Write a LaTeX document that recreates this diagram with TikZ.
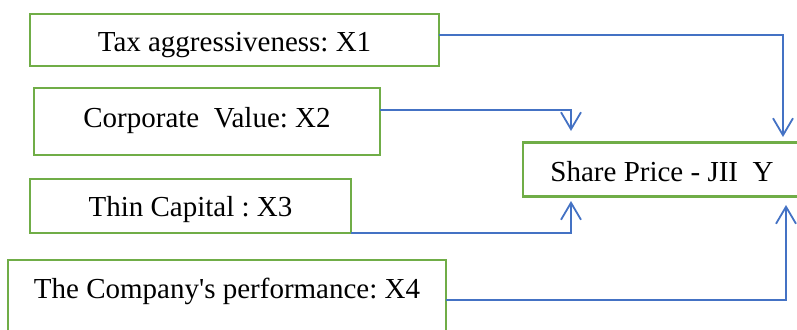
\documentclass[tikz,border=0pt]{standalone}
\usepackage{fontspec}
\setmainfont{Liberation Serif}
\usetikzlibrary{arrows.meta}
\definecolor{bgreen}{HTML}{70AD47}
\definecolor{cblue}{HTML}{4472C4}
\frenchspacing
\tikzset{
  gbox/.style={draw=bgreen, line width=2.5pt, inner sep=0pt, outer sep=0pt,
    anchor=north west, font=\fontsize{29}{34}\selectfont\frenchspacing},
  conn/.style={draw=cblue, line width=1.5pt,
    -{Straight Barb[length=17pt,width=20pt,line width=1.8pt]}}
}
\begin{document}
\begin{tikzpicture}[x=1pt,y=-1pt]
\useasboundingbox (0,0) rectangle (797,329);
\node[gbox, minimum width=409pt, text height=38pt, text depth=14pt] (x1) at (30,14) {Tax aggressiveness: X1};
\node[gbox, minimum width=346pt, text height=39pt, text depth=28pt] (x2) at (34,88) {Corporate\ \ Value: X2};
\node[gbox, minimum width=321pt, text height=37pt, text depth=17pt] (x3) at (30,179) {Thin Capital : X3};
\node[gbox, minimum width=438pt, text height=38pt, text depth=37pt] (x4) at (8,260) {The Company\textquotesingle s performance: X4};
\node[gbox, minimum width=278pt, text height=38.5pt, text depth=15.5pt] (y) at (523,142.5) {Share Price - JII\ \ Y};
\draw[conn] ([yshift=5pt]x1.east) -| ([xshift=-18pt,yshift=5.5pt]y.north east);
\draw[conn] ([yshift=11.5pt]x2.east) -| ([xshift=48pt,yshift=11.5pt]y.north west);
\draw[conn] (x3.south east) -| ([xshift=48pt,yshift=-4.5pt]y.south west);
\draw[conn] ([yshift=-2.5pt]x4.east) -| ([xshift=-15pt,yshift=-8.5pt]y.south east);
\end{tikzpicture}
\end{document}
